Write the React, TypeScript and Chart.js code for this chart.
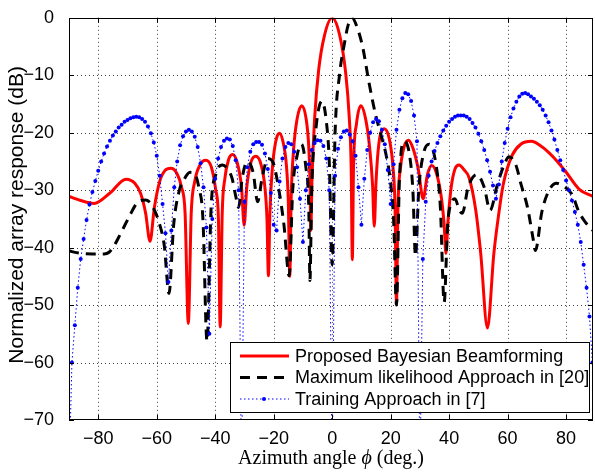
import React, { useEffect, useRef } from 'react';
import { Chart, registerables } from 'chart.js';

Chart.register(...registerables);

const W = 595;
const H = 472;

const X_MIN = -90;
const X_MAX = 89.2;
const Y_MIN = -70;
const Y_MAX = 0;
const X_TICKS = [-80, -60, -40, -20, 0, 20, 40, 60, 80];
const Y_TICKS = [-70, -60, -50, -40, -30, -20, -10, 0];

const SERIES_LABELS = [
  'Proposed Bayesian Beamforming',
  'Maximum likelihood Approach in [20]',
  'Training Approach in [7]',
];

// Proposed Bayesian Beamforming (red solid)
const bayesAngle = [
  -90, -86, -81.4, -76, -70.5, -67.5, -65.5, -63.8, -62.3, -60.8, -59, -57.2, -55.2, -53.2, -51.5, -50.3,
  -49.2, -48.2, -47, -45.2, -43.2, -41.3, -39.8, -38.9, -38.3, -37.6, -36.7, -35.5, -34.1, -32.6, -31,
  -30.1, -29.2, -27.8, -26.1, -24.4, -23, -22.3, -21.8, -21.3, -20.5, -19.4, -18.1, -16.8, -15.6, -15,
  -14.5, -14, -13.2, -12, -10.4, -8.9, -8, -7.6, -7.3, -6.9, -6, -4.6, -2.6, 0, 2.5, 4.6, 5.8, 6.5, 6.9,
  7.3, 8.3, 9.8, 11.4, 12.8, 13.8, 14.4, 15, 16, 17.8, 19.5, 20.8, 21.5, 22, 22.5, 23.4, 24.7, 26.1, 27.7,
  29.5, 31.1, 32.6, 34.1, 35.8, 37.4, 38.3, 38.9, 39.6, 40.7, 42, 43.4, 45, 46.8, 49.1, 50.8, 53.1, 55.3,
  57, 58.5, 61.5, 64.5, 68.2, 71, 74.2, 77, 79.9, 84.4, 89.2,
];
const bayesDb = [
  -31.1, -31.8, -32.3, -30.5, -28.1, -28.8, -30.6, -34, -38.9, -33, -28.5, -26.6, -26.2, -27, -29.5, -34,
  -53.2, -34, -28.5, -25.6, -24.8, -26, -30, -35, -53.8, -34, -28, -24.8, -23.8, -25, -29.5,
  -36.1, -29.5, -25.2, -24.1, -25.4, -29.5, -35, -44.9, -34, -26.5, -21.8, -20.1, -21.6, -26, -32,
  -45, -31, -23, -17.6, -15.3, -17.6, -22.5, -28, -37, -28, -17.5, -9, -3, 0, -2.9, -9.5, -17, -26, -42.1,
  -26, -18.5, -15.3, -17.5, -22.5, -29, -36.3, -28.5, -21.8, -19.3, -21, -26, -33, -49.8, -33, -26, -22.3, -21.3, -22.8,
  -26.5, -31.5, -27.2, -25.7, -27.3, -31.5, -36, -41, -35.5, -29.5, -26.3, -25.6, -26.4, -27.8, -33.5, -41, -54, -41,
  -34, -29, -24, -22, -21.5, -22.2, -23.5, -25, -26.8, -29.8, -31.1,
];

// Maximum likelihood approach (black dashed)
const mlAngle = [
  -90, -86, -82, -78, -76.3, -74.5, -72.8, -71, -69.4, -66.3, -63.7, -61.6, -59.1, -57.4, -55.8, -54.2,
  -52.3, -50.5, -48.6, -47, -45.6, -44.2, -42.8, -41.4, -39.8, -37.5, -35.5, -34.2, -33, -32, -30.8, -29,
  -27, -25.5, -24, -22, -20, -18.2, -16.5, -14.7, -13.5, -12, -10.5, -9, -8, -7.6, -7, -5.5, -3.5, -2, -1,
  0, 1, 2.5, 4, 5.5, 6.8, 8.2, 10.4, 12.6, 14.9, 16.5, 18.5, 19.8, 21, 22, 23, 24.7, 26.5, 27.6, 28.5, 29.6,
  31.3, 33.2, 35.5, 37, 38.3, 39.5, 41, 42, 43.5, 44.5, 46.5, 49.5, 52, 54, 56.5, 58.8, 60.5, 62.8, 64.6,
  66.8, 68.7, 69.5, 71.7, 74, 76.7, 79, 82, 84.4, 86.5, 89.2,
];
const mlDb = [
  -40.6, -41, -41.1, -41.1, -40.8, -39.6, -38, -36.2, -34.6, -32, -31.7, -32.7, -35.8, -39.7, -48, -36,
  -30.1, -28, -26.9, -27.2, -29.5, -35, -56.3, -33, -27.3, -25.6, -26.5, -28, -31, -33, -28, -25,
  -27, -32, -28, -24.5, -25.5, -30, -36, -44.9, -30, -24, -22, -26, -33, -45.7, -30, -19, -14.5, -18, -25,
  -43, -20, -10, -5, -1.2, 0, -1.2, -5, -11.3, -17, -20, -24, -28, -35, -50, -28, -21.5, -24, -30, -41.5, -30,
  -23.5, -22, -25.5, -33, -49.5, -36, -32, -31.5, -33.5, -34, -29.5, -27.3, -29.5, -33.5, -29, -25.6, -24.2, -25.6, -29,
  -33, -38.4, -40.5, -33.8, -30.2, -28.8, -29.3, -30.7, -33.8, -35.5, -37,
];

// Training approach (blue dotted with markers), one sample per degree
const trainAngle = [
  -90, -89, -88, -87, -86, -85, -84, -83, -82, -81,
  -80, -79, -78, -77, -76, -75, -74, -73, -72, -71,
  -70, -69, -68, -67, -66, -65, -64, -63, -62, -61,
  -60, -59, -58, -57, -56, -55, -54, -53, -52, -51,
  -50, -49, -48, -47, -46, -45, -44, -43, -42, -41,
  -40, -39, -38, -37, -36, -35, -34, -33, -32, -31,
  -30, -29, -28, -27, -26, -25, -24, -23, -22, -21,
  -20, -19, -18, -17, -16, -15, -14, -13, -12, -11,
  -10, -9, -8, -7, -6, -5, -4, -3, -2, -1,
  0, 1, 2, 3, 4, 5, 6, 7, 8, 9,
  10, 11, 12, 13, 14, 15, 16, 17, 18, 19,
  20, 21, 22, 23, 24, 25, 26, 27, 28, 29,
  30, 31, 32, 33, 34, 35, 36, 37, 38, 39,
  40, 41, 42, 43, 44, 45, 46, 47, 48, 49,
  50, 51, 52, 53, 54, 55, 56, 57, 58, 59,
  60, 61, 62, 63, 64, 65, 66, 67, 68, 69,
  70, 71, 72, 73, 74, 75, 76, 77, 78, 79,
  80, 81, 82, 83, 84, 85, 86, 87, 88, 89,
];
const trainDb = [
  -80, -60, -53.5, -47, -42, -38.5, -35.2, -32.5, -30.3, -28.4,
  -26.6, -25, -23.6, -22.4, -21.4, -20.5, -19.8, -19.1, -18.6, -18.1,
  -17.8, -17.5, -17.3, -17.2, -17.3, -17.6, -18.1, -18.9, -20.1, -21.7,
  -24, -27.5, -32.4, -37.5, -46, -37, -29.5, -25, -22.2, -20.6,
  -19.8, -19.5, -19.8, -20.7, -22.5, -25.3, -29.5, -36.5, -55, -35,
  -28, -24.5, -22.5, -21.4, -21, -21.2, -22.3, -24.8, -30, -80,
  -32, -26, -23.3, -22, -21.6, -21.6, -22.1, -23.6, -26.3, -30.5,
  -36, -37, -28.5, -24.5, -22.5, -21.8, -22, -23.3, -26, -31.5,
  -39, -30, -25.5, -23, -21.8, -21.3, -21.4, -22.3, -24.5, -30,
  -80, -27.5, -22.8, -20.8, -19.8, -19.6, -20.3, -21.5, -24, -29.5,
  -36, -28, -23, -20, -18.2, -17.6, -18, -19.5, -22, -26.5,
  -32.4, -25.5, -19.5, -16, -14, -13.1, -13.3, -14.5, -17, -21.5,
  -80, -42, -32, -27.5, -25, -23.2, -21.8, -20.6, -19.6, -18.8,
  -18.1, -17.6, -17.2, -17, -17, -17, -17.2, -17.6, -18.3, -19.1,
  -20.2, -21.5, -23, -24.8, -26.8, -29.2, -31.5, -29, -25, -21.8,
  -19.3, -17.3, -15.8, -14.6, -13.7, -13.2, -13.1, -13.3, -13.7, -14.1,
  -14.6, -15.2, -16, -17, -18.2, -19.6, -21.2, -23, -24.8, -26.5,
  -28.3, -30, -31.8, -33.8, -36, -39, -43, -47, -52, -60,
];

const toPoints = (xs: number[], ys: number[]) => xs.map((x, i) => ({ x, y: ys[i] }));
const fmt = (v: number) => (v < 0 ? '\u2212' + Math.abs(v) : String(v));

const SANS = '"Liberation Sans", Arial, Helvetica, sans-serif';
const SERIF = '"Liberation Serif", "Times New Roman", serif';
const FONT_SIZE = 18;
const YTITLE_SIZE = 21;
const XTITLE_SIZE = 20;

const decor = {
  id: 'decor',
  beforeDatasetsDraw(chart: any) {
    const { ctx, chartArea: a, scales } = chart;
    ctx.save();
    ctx.strokeStyle = 'rgba(0,0,0,0.75)';
    ctx.lineWidth = 1;
    ctx.setLineDash([1, 3]);
    for (const v of X_TICKS) {
      const px = Math.round(scales.x.getPixelForValue(v)) + 0.5;
      ctx.beginPath();
      ctx.moveTo(px, a.top);
      ctx.lineTo(px, a.bottom);
      ctx.stroke();
    }
    for (const v of Y_TICKS) {
      if (v === Y_MIN || v === Y_MAX) continue;
      const py = Math.round(scales.y.getPixelForValue(v)) + 0.5;
      ctx.beginPath();
      ctx.moveTo(a.left, py);
      ctx.lineTo(a.right, py);
      ctx.stroke();
    }
    ctx.restore();
  },
  afterDraw(chart: any) {
    const { ctx, chartArea: a, scales } = chart;
    ctx.save();
    ctx.setLineDash([]);
    ctx.strokeStyle = '#000';
    ctx.lineWidth = 1;
    // inward tick marks
    const tl = 5;
    for (const v of X_TICKS) {
      const px = Math.round(scales.x.getPixelForValue(v)) + 0.5;
      ctx.beginPath();
      ctx.moveTo(px, a.bottom);
      ctx.lineTo(px, a.bottom - tl);
      ctx.moveTo(px, a.top);
      ctx.lineTo(px, a.top + tl);
      ctx.stroke();
    }
    for (const v of Y_TICKS) {
      const py = Math.round(scales.y.getPixelForValue(v)) + 0.5;
      ctx.beginPath();
      ctx.moveTo(a.left, py);
      ctx.lineTo(a.left + tl, py);
      ctx.moveTo(a.right, py);
      ctx.lineTo(a.right - tl, py);
      ctx.stroke();
    }
    // axes box
    ctx.strokeRect(Math.round(a.left) + 0.5, Math.round(a.top) + 0.5, Math.round(a.right - a.left) - 1, Math.round(a.bottom - a.top) - 1);

    // legend
    const lx = 230, ly = 342, lw = 359, lh = 70;
    ctx.fillStyle = '#fff';
    ctx.fillRect(lx, ly, lw, lh);
    ctx.strokeRect(lx + 0.5, ly + 0.5, lw, lh);
    const rows = [356, 377.5, 399];
    chart.data.datasets.forEach((ds: any, i: number) => {
      const y = rows[i];
      ctx.save();
      ctx.strokeStyle = ds.borderColor;
      ctx.lineWidth = ds.borderWidth;
      ctx.setLineDash(ds.borderDash || []);
      ctx.beginPath();
      ctx.moveTo(240, y);
      ctx.lineTo(289, y);
      ctx.stroke();
      if (ds.pointRadius > 0) {
        ctx.fillStyle = ds.pointBackgroundColor;
        ctx.beginPath();
        ctx.arc(264, y, ds.pointRadius, 0, Math.PI * 2);
        ctx.fill();
      }
      ctx.restore();
      ctx.fillStyle = '#000';
      ctx.font = `${FONT_SIZE}px ${SANS}`;
      ctx.textBaseline = 'middle';
      ctx.textAlign = 'left';
      ctx.fillText(SERIES_LABELS[i], 295, y + 1);
    });

    // y-axis title
    ctx.save();
    ctx.translate(17, (a.top + a.bottom) / 2 - 4);
    ctx.rotate(-Math.PI / 2);
    ctx.font = `${YTITLE_SIZE}px ${SANS}`;
    ctx.textAlign = 'center';
    ctx.textBaseline = 'middle';
    ctx.fillStyle = '#000';
    ctx.fillText('Normalized array response (dB)', 0, 0);
    ctx.restore();

    // x-axis title with italic phi
    const parts: [string, string][] = [
      ['Azimuth angle ', `${XTITLE_SIZE}px ${SERIF}`],
      ['\u03d5', `italic ${XTITLE_SIZE}px ${SERIF}`],
      [' (deg.)', `${XTITLE_SIZE}px ${SERIF}`],
    ];
    let total = 0;
    for (const [t, f] of parts) {
      ctx.font = f;
      total += ctx.measureText(t).width;
    }
    let x = (a.left + a.right) / 2 - total / 2;
    ctx.textBaseline = 'alphabetic';
    ctx.textAlign = 'left';
    ctx.fillStyle = '#000';
    for (const [t, f] of parts) {
      ctx.font = f;
      ctx.fillText(t, x, 464);
      x += ctx.measureText(t).width;
    }
    ctx.restore();
  },
};

export default function App() {
  const ref = useRef<HTMLCanvasElement | null>(null);

  useEffect(() => {
    if (!ref.current) return;
    const chart = new Chart(ref.current, {
      type: 'line',
      data: {
        datasets: [
          {
            label: SERIES_LABELS[0],
            data: toPoints(bayesAngle, bayesDb),
            borderColor: '#ff0000',
            backgroundColor: '#ff0000',
            borderWidth: 3,
            pointRadius: 0,
            cubicInterpolationMode: 'monotone',
            fill: false,
            order: 2,
          },
          {
            label: SERIES_LABELS[1],
            data: toPoints(mlAngle, mlDb),
            borderColor: '#000000',
            backgroundColor: '#000000',
            borderWidth: 3,
            borderDash: [10, 7],
            pointRadius: 0,
            cubicInterpolationMode: 'monotone',
            fill: false,
            order: 1,
          },
          {
            label: SERIES_LABELS[2],
            data: toPoints(trainAngle, trainDb),
            borderColor: '#0000ff',
            backgroundColor: '#0000ff',
            pointBackgroundColor: '#0000ff',
            borderWidth: 1,
            borderDash: [1.5, 2.5],
            pointRadius: 2,
            pointBorderWidth: 0,
            pointHoverRadius: 0,
            tension: 0,
            fill: false,
            order: 0,
          },
        ] as any,
      },
      options: {
        animation: false,
        responsive: false,
        devicePixelRatio: 1,
        events: [],
        layout: { padding: { top: 10, right: 1, left: 0, bottom: 0 } },
        plugins: { legend: { display: false }, tooltip: { enabled: false }, title: { display: false } },
        scales: {
          x: {
            type: 'linear',
            min: X_MIN,
            max: X_MAX,
            afterBuildTicks: (s: any) => {
              s.ticks = X_TICKS.map((v) => ({ value: v }));
            },
            afterFit: (s: any) => {
              s.height = 52;
            },
            grid: { display: false },
            border: { display: false },
            ticks: {
              callback: (v: any) => fmt(Number(v)),
              font: { family: SANS, size: FONT_SIZE },
              color: '#000',
              padding: 0,
              maxRotation: 0,
              autoSkip: false,
            },
          },
          y: {
            type: 'linear',
            min: Y_MIN,
            max: Y_MAX,
            afterBuildTicks: (s: any) => {
              s.ticks = Y_TICKS.map((v) => ({ value: v }));
            },
            afterFit: (s: any) => {
              s.width = 69;
            },
            grid: { display: false },
            border: { display: false },
            ticks: {
              callback: (v: any) => fmt(Number(v)),
              font: { family: SANS, size: FONT_SIZE },
              color: '#000',
              padding: 7,
              autoSkip: false,
            },
          },
        },
      } as any,
      plugins: [decor],
    });
    return () => chart.destroy();
  }, []);

  return (
    <div style={{ position: 'fixed', left: 0, top: 0, width: W, height: H, background: '#fff' }}>
      <canvas ref={ref} width={W} height={H} style={{ width: W, height: H, display: 'block' }} />
    </div>
  );
}
